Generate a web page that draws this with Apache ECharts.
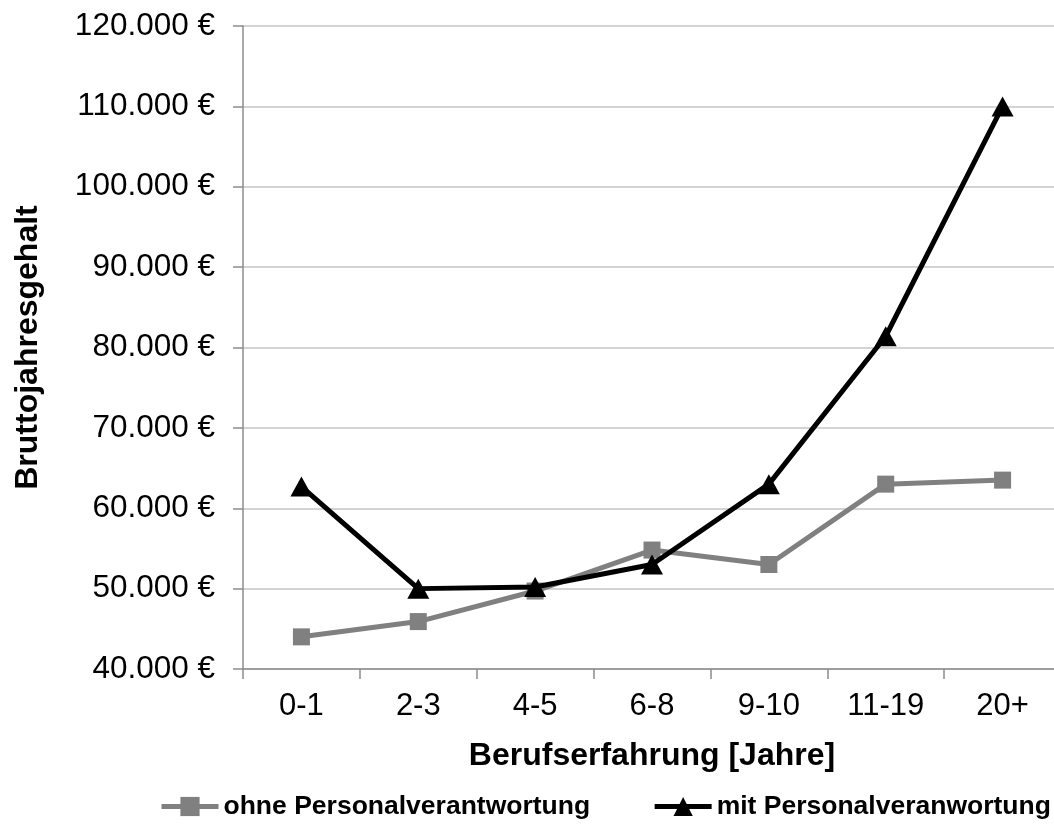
<!DOCTYPE html>
<html>
<head>
<meta charset="utf-8">
<script src="https://cdn.jsdelivr.net/npm/echarts@6/dist/echarts.min.js"></script>
<style>
  html, body { margin: 0; padding: 0; background: #fff; overflow: hidden; }
  /* plot area runs a few pixels past the right edge of the page */
  #chart { width: 1064px; height: 825px; }
</style>
</head>
<body>
<div id="chart"></div>
<script>
// Experience brackets (years) and gross annual salary per bracket
const categories = ['0-1', '2-3', '4-5', '6-8', '9-10', '11-19', '20+'];
const ohnePersonal = [44000, 45900, 49700, 54800, 53000, 63000, 63500];
const mitPersonal = [62700, 50000, 50200, 53000, 63000, 81400, 110000];
const seriesNames = ['ohne Personalverantwortung', 'mit Personalveranwortung'];
const axisNames = { x: 'Berufserfahrung [Jahre]', y: 'Bruttojahresgehalt' };

const FONT = '"Liberation Sans", Arial, sans-serif';
const AXIS_GREY = '#8c8c8c';

function euro(v) {
  return String(v).replace(/\B(?=(\d{3})+(?!\d))/g, '.') + ' €';
}

const chart = echarts.init(document.getElementById('chart'), null, { renderer: 'canvas' });
chart.setOption({
  animation: false,
  backgroundColor: '#ffffff',
  textStyle: { fontFamily: FONT },
  grid: { left: 243, top: 26, width: 818, height: 643, containLabel: false },
  legend: {
    left: 159,
    top: 793,
    padding: 0,
    itemWidth: 57,
    itemHeight: 24,
    itemGap: 62,
    lineStyle: { width: 5 },
    textStyle: { fontFamily: FONT, fontSize: 26.5, fontWeight: 'bold', color: '#000' },
    data: seriesNames
  },
  xAxis: {
    type: 'category',
    data: categories,
    boundaryGap: true,
    name: axisNames.x,
    nameLocation: 'middle',
    nameGap: 71,
    nameTextStyle: { fontFamily: FONT, fontSize: 32, fontWeight: 'bold', color: '#000' },
    axisLine: { lineStyle: { color: AXIS_GREY, width: 1.5 } },
    axisTick: { show: true, length: 10, inside: false, lineStyle: { color: AXIS_GREY, width: 1.5 } },
    axisLabel: { fontFamily: FONT, fontSize: 31, color: '#000', margin: 22, interval: 0 },
    splitLine: { show: false }
  },
  yAxis: {
    type: 'value',
    min: 40000,
    max: 120000,
    interval: 10000,
    name: axisNames.y,
    nameLocation: 'middle',
    nameRotate: 90,
    nameGap: 199,
    nameTextStyle: { fontFamily: FONT, fontSize: 32, fontWeight: 'bold', color: '#000' },
    axisLine: { show: true, lineStyle: { color: AXIS_GREY, width: 1.5 } },
    axisTick: { show: true, length: 10, lineStyle: { color: AXIS_GREY, width: 1.5 } },
    axisLabel: { fontFamily: FONT, fontSize: 31.5, color: '#000', margin: 28, formatter: euro },
    splitLine: { show: true, lineStyle: { color: '#c6c6c6', width: 1.5 } }
  },
  series: [
    {
      name: seriesNames[0],
      type: 'line',
      data: ohnePersonal,
      symbol: 'rect',
      symbolSize: 17,
      lineStyle: { color: '#808080', width: 5 },
      itemStyle: { color: '#808080' },
      z: 2
    },
    {
      name: seriesNames[1],
      type: 'line',
      data: mitPersonal,
      symbol: 'triangle',
      symbolSize: [22, 20],
      lineStyle: { color: '#000000', width: 5 },
      itemStyle: { color: '#000000' },
      z: 3
    }
  ]
});
</script>
</body>
</html>
